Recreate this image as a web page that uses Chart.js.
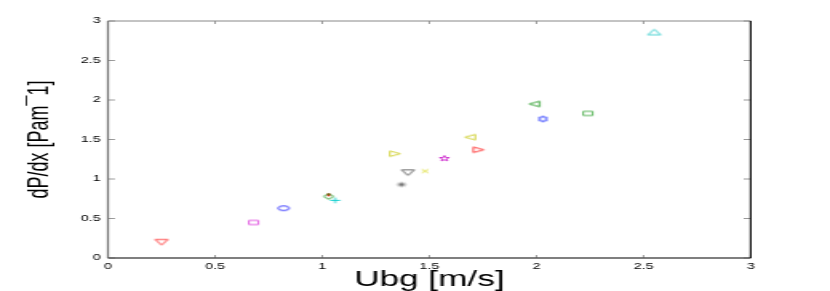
<!DOCTYPE html>
<html>
<head>
<meta charset="utf-8">
<script src="https://cdn.jsdelivr.net/npm/chart.js@4"></script>
<style>
  html, body { margin: 0; padding: 0; background: #fff; }
  #plot { display: block; }
</style>
</head>
<body>
<canvas id="plot" width="519" height="291" style="width: 830px; height: 291px;"></canvas>
<script>
// measured points, one marker each
const ubg  = [0.25, 0.68, 0.82, 1.03, 1.03, 1.06, 1.37, 1.40, 1.34, 1.48, 1.57, 1.69, 1.73, 1.99, 2.03, 2.24, 2.55];
const dpdx = [0.20, 0.45, 0.63, 0.78, 0.80, 0.73, 0.93, 1.08, 1.32, 1.10, 1.26, 1.53, 1.37, 1.95, 1.76, 1.83, 2.86];

const xTickLabels = ['0', '0.5', '1', '1.5', '2', '2.5', '3'];
const yTickLabels = ['0', '0.5', '1', '1.5', '2', '2.5', '3'];
const xTitle = 'Ubg [m/s]';
const yTitle = 'dP/dx [Pam¯1]';

// matlab style marker codes and colours
const markerKinds  = ['v', 's', 'o', 'd', '.', '+', '*', 'v', '>', 'x', 'p', '<', '>', '<', 'h', 's', '^'];
const markerColors = ['#ff3333', '#dd44dd', '#2222ff', '#229922', '#cc2200', '#00cccc', '#555555', '#555555',
                      '#cccc22', '#dddd33', '#cc22cc', '#cccc22', '#ff2222', '#229922', '#2233ff', '#44aa44', '#33cccc'];

// the whole figure is stretched sideways, like the original export
const SX = 830 / 519;

// marker extents in final (stretched) pixels: [width, height]
const markerSize = {
    'v': [14, 6.5], '^': [14, 6.5], '<': [11.7, 6.5], '>': [11.7, 6.5],
    's': [10.7, 5.2], 'o': [12.3, 5.7], 'd': [11.3, 6.7], '+': [11.7, 6.7],
    'x': [8, 4.7], '*': [10.7, 6], 'p': [11.7, 7], 'h': [11.3, 7], '.': [4, 3]
};

function makeMarker(kind, color) {
    const [w, h] = markerSize[kind];
    const hw = w / 2 / SX - 0.4, hh = h / 2 - 0.5;
    const c = document.createElement('canvas');
    c.width = Math.ceil(2 * hw + 3);
    c.height = Math.ceil(2 * hh + 3);
    const ctx = c.getContext('2d');
    ctx.translate(c.width / 2, c.height / 2);
    ctx.strokeStyle = color;
    ctx.fillStyle = color;
    ctx.lineWidth = 0.9;

    const poly = (pts) => {
        ctx.beginPath();
        pts.forEach(([u, v], i) => i ? ctx.lineTo(u * hw, v * hh) : ctx.moveTo(u * hw, v * hh));
        ctx.closePath();
        ctx.stroke();
    };
    const lines = (segs) => {
        ctx.beginPath();
        segs.forEach(([a, b, e, f]) => { ctx.moveTo(a * hw, b * hh); ctx.lineTo(e * hw, f * hh); });
        ctx.stroke();
    };
    const starPts = (n, inner) => {
        const pts = [];
        for (let i = 0; i < 2 * n; i++) {
            const ang = -Math.PI / 2 + i * Math.PI / n;
            const r = i % 2 ? inner : 1;
            pts.push([r * Math.cos(ang), r * Math.sin(ang)]);
        }
        return pts;
    };

    switch (kind) {
        case 'v': poly([[-1, -1], [1, -1], [0, 1]]); break;
        case '^': poly([[-1, 1], [1, 1], [0, -1]]); break;
        case '<': poly([[-1, 0], [1, -1], [1, 1]]); break;
        case '>': poly([[1, 0], [-1, -1], [-1, 1]]); break;
        case 's': poly([[-1, -1], [1, -1], [1, 1], [-1, 1]]); break;
        case 'd': poly([[0, -1], [1, 0], [0, 1], [-1, 0]]); break;
        case 'o':
            ctx.beginPath();
            ctx.ellipse(0, 0, hw, hh, 0, 0, Math.PI * 2);
            ctx.stroke();
            break;
        case '+': lines([[-1, 0, 1, 0], [0, -1, 0, 1]]); break;
        case 'x': lines([[-1, -1, 1, 1], [-1, 1, 1, -1]]); break;
        case '*':
            ctx.lineWidth = 0.7;
            lines([[-1, 0, 1, 0], [0, -1, 0, 1], [-0.7, -0.7, 0.7, 0.7], [-0.7, 0.7, 0.7, -0.7]]);
            break;
        case 'p': poly(starPts(5, 0.4)); break;
        case 'h': poly(starPts(6, 0.58)); break;
        case '.':
            ctx.beginPath();
            ctx.ellipse(0, 0, hw + 0.4, hh + 0.4, 0, 0, Math.PI * 2);
            ctx.fill();
            break;
    }
    return c;
}

// box round the axes with inward ticks on all four sides
const framePlugin = {
    id: 'frame',
    beforeDatasetsDraw(chart) {
        const {ctx, chartArea: a, scales: {x, y}} = chart;
        ctx.save();
        ctx.lineCap = 'butt';

        ctx.strokeStyle = '#999';
        ctx.lineWidth = 1;
        ctx.beginPath();
        x.ticks.forEach(t => {
            const px = x.getPixelForValue(t.value);
            ctx.moveTo(px, a.bottom); ctx.lineTo(px, a.bottom - 3);
            ctx.moveTo(px, a.top); ctx.lineTo(px, a.top + 3);
        });
        y.ticks.forEach(t => {
            const py = y.getPixelForValue(t.value);
            ctx.moveTo(a.left, py); ctx.lineTo(a.left + 4.4, py);
            ctx.moveTo(a.right, py); ctx.lineTo(a.right - 4.4, py);
        });
        ctx.stroke();

        const edge = (x1, y1, x2, y2, color, width) => {
            ctx.strokeStyle = color;
            ctx.lineWidth = width;
            ctx.beginPath();
            ctx.moveTo(x1, y1);
            ctx.lineTo(x2, y2);
            ctx.stroke();
        };
        edge(a.left, a.top, a.right, a.top, '#888', 1);
        edge(a.left, a.top, a.left, a.bottom, '#777', 1.3);
        edge(a.left, a.bottom, a.right, a.bottom, '#555', 1.5);
        edge(a.right, a.top, a.right, a.bottom, '#111', 1.2);
        ctx.restore();
    }
};

new Chart(document.getElementById('plot'), {
    type: 'scatter',
    data: {
        datasets: ubg.map((u, i) => ({
            data: [{x: u, y: dpdx[i]}],
            pointStyle: makeMarker(markerKinds[i], markerColors[i]),
            pointRadius: 3,
            showLine: false
        }))
    },
    options: {
        responsive: false,
        animation: false,
        devicePixelRatio: 1,
        layout: {
            padding: {top: 21, right: 49.6, left: 0, bottom: 0}
        },
        plugins: {
            legend: {display: false},
            tooltip: {enabled: false}
        },
        scales: {
            x: {
                type: 'linear',
                position: 'bottom',
                min: 0,
                max: 3,
                grid: {display: false, drawTicks: false},
                border: {display: false},
                ticks: {
                    stepSize: 0.5,
                    padding: 3.5,
                    maxRotation: 0,
                    color: '#000',
                    font: {family: 'Liberation Sans', size: 9},
                    callback: (v, i) => xTickLabels[i]
                },
                title: {
                    display: true,
                    text: xTitle,
                    color: '#000',
                    font: {family: 'Liberation Sans', size: 22, lineHeight: 1},
                    padding: 0
                },
                afterFit: s => { s.height = 33; }
            },
            y: {
                type: 'linear',
                position: 'left',
                min: 0,
                max: 3,
                grid: {display: false, drawTicks: false},
                border: {display: false},
                ticks: {
                    stepSize: 0.5,
                    padding: 4.5,
                    color: '#000',
                    font: {family: 'Liberation Sans', size: 9},
                    callback: (v, i) => yTickLabels[i]
                },
                title: {
                    display: true,
                    text: yTitle,
                    color: '#000',
                    font: {family: 'Liberation Sans', size: 18, lineHeight: 1},
                    padding: {top: 16.3, bottom: 0}
                },
                afterFit: s => { s.width = 67.5; }
            }
        }
    },
    plugins: [framePlugin]
});
</script>
</body>
</html>
